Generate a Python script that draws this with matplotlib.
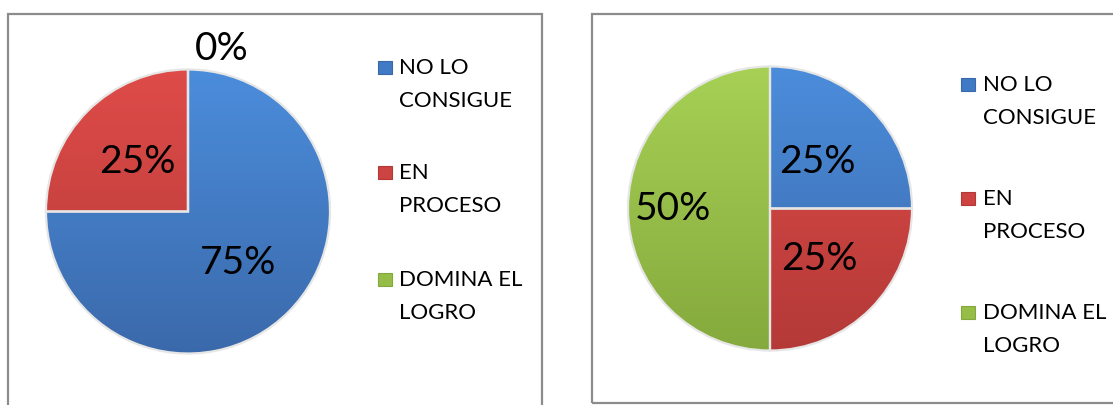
import numpy as np
import matplotlib
matplotlib.use("Agg")
import matplotlib.pyplot as plt
from matplotlib.colors import LinearSegmentedColormap
from matplotlib.patches import Rectangle

# ---------------- data ----------------
categories = ["NO LO CONSIGUE", "EN PROCESO", "DOMINA EL LOGRO"]
legend_lines = [["NO LO", "CONSIGUE"], ["EN", "PROCESO"], ["DOMINA EL", "LOGRO"]]
values_left = [75, 25, 0]
values_right = [25, 25, 50]

colors_top = ["#4C8EDD", "#E04C49", "#A8D256"]
colors_bot = ["#3A68A9", "#B23937", "#84A83C"]
colors_mid = ["#4079C4", "#CC4341", "#95BD48"]

FONT = ["Lato", "DejaVu Sans"]

W, H = 1113, 406
fig = plt.figure(figsize=(W / 100, H / 100), dpi=100)
ax = fig.add_axes([0, 0, 1, 1])


def Y(s):
    return H - s


# panel borders
ax.add_patch(Rectangle((8, Y(430)), 534, 430 - 15, fill=False, ec="#8c8c8c", lw=1.6, zorder=0.5))
ax.add_patch(Rectangle((592, Y(404)), 600, 404 - 15, fill=False, ec="#8c8c8c", lw=1.6, zorder=0.5))


def draw_pie(values, center, radius, explode, dists):
    cx, cy = center
    wedges, texts, autotexts = ax.pie(
        values, colors=colors_mid, startangle=90, counterclock=False,
        center=center, radius=radius, explode=explode,
        autopct="%1.0f%%", pctdistance=0.5, frame=True,
        wedgeprops=dict(edgecolor="#e6e6e6", linewidth=1.6),
        textprops=dict(fontsize=28, family=FONT, color="black"))
    grad = np.linspace(0, 1, 256).reshape(-1, 1)
    for w, ct, cb in zip(wedges, colors_top, colors_bot):
        cmap = LinearSegmentedColormap.from_list("g", [cb, ct])
        im = ax.imshow(grad, cmap=cmap, origin="lower", aspect="auto",
                       extent=[cx - radius - 10, cx + radius + 10, cy - radius - 10, cy + radius + 10],
                       zorder=1.5, interpolation="bilinear")
        im.set_clip_path(w)
        w.set_facecolor("none")
        w.set_zorder(2)
    for v, w, t, d in zip(values, wedges, autotexts, dists):
        wx, wy = w.center
        if v == 0:
            t.set_position((wx + 0.05 * radius, wy + 1.15 * radius))
            t.set_ha("left")
        else:
            th = np.deg2rad((w.theta1 + w.theta2) / 2)
            t.set_position((wx + d * radius * np.cos(th), wy + d * radius * np.sin(th)))
            t.set_ha("center")
        t.set_va("center")
        t.set_zorder(4)


def draw_legend(x_marker, x_text, ys):
    for lines, y, c, ct, cb in zip(legend_lines, ys, colors_mid, colors_top, colors_bot):
        ax.add_patch(Rectangle((x_marker, Y(y + 6.5)), 14, 13, fc=c, ec=cb, lw=0.8, zorder=3))
        for j, ln in enumerate(lines):
            ax.text(x_text, Y(y + 33 * j), ln, fontsize=16, family=FONT,
                    ha="left", va="center", color="black")


draw_pie(values_left, (188, Y(212.5)), 142, [0.022, 0.022, 0.0], [0.5, 0.5, 0.5])
draw_pie(values_right, (770, Y(209.5)), 142, [0.015, 0.015, 0.015], [0.47, 0.49, 0.68])

draw_legend(378, 399, [68, 173, 280])
draw_legend(961, 983, [85, 199, 313])

ax.set_xlim(0, W)
ax.set_ylim(0, H)
ax.set_aspect("auto")
ax.axis("off")

fig.savefig("out.png", dpi=100, facecolor="white")
